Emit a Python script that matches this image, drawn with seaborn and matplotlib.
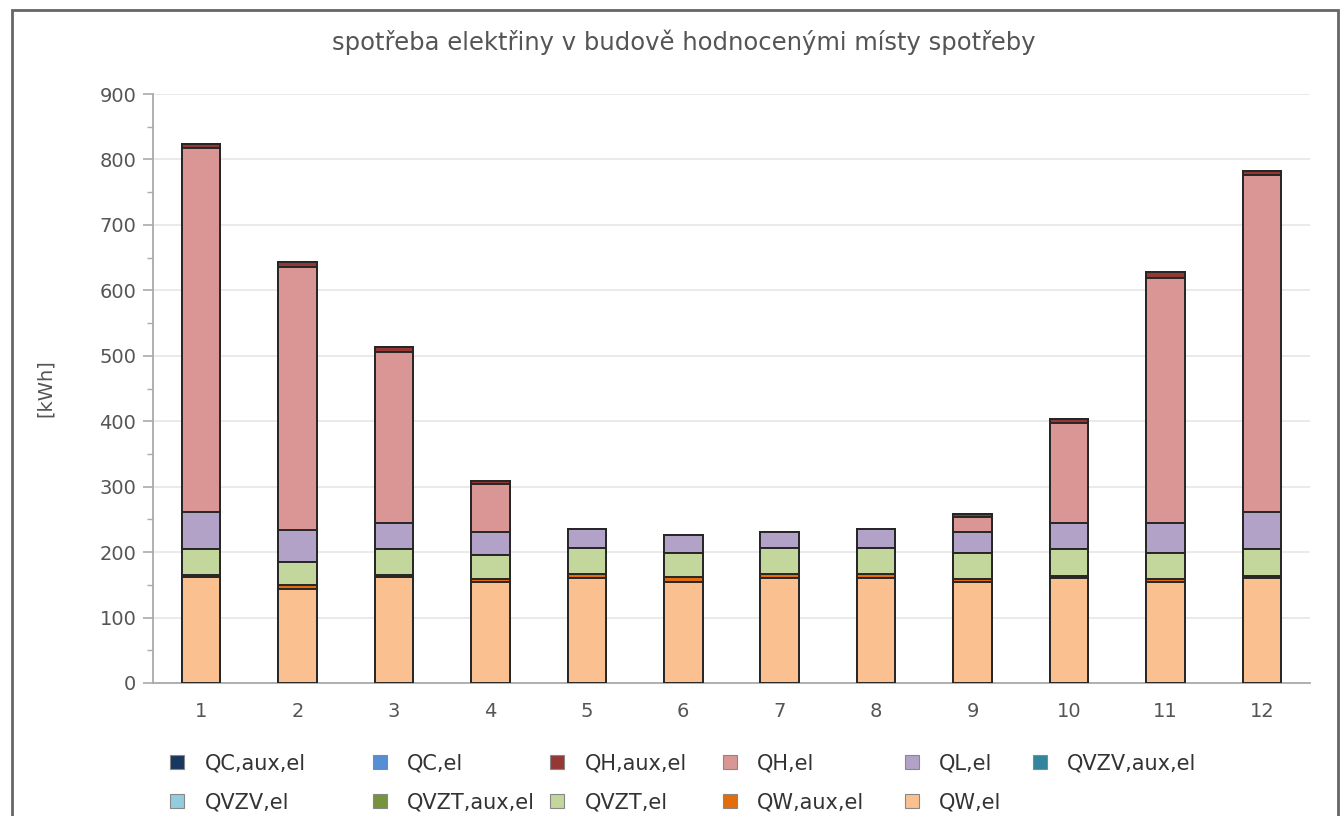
import numpy as np
import pandas as pd
import matplotlib
matplotlib.use("Agg")
import matplotlib.pyplot as plt
from matplotlib.patches import Patch, Rectangle
import seaborn as sns

months = ["1", "2", "3", "4", "5", "6", "7", "8", "9", "10", "11", "12"]

# series (bottom -> top stacking order)
series_names = ["QW,el", "QW,aux,el", "QVZT,el", "QVZT,aux,el", "QVZV,el", "QVZV,aux,el",
                "QL,el", "QH,el", "QH,aux,el", "QC,el", "QC,aux,el"]
QW_el       = [162, 143, 162, 155, 161, 155, 161, 161, 155, 161, 155, 161]
QW_aux_el   = [3, 6, 3, 4, 6, 7, 6, 6, 4, 3, 4, 3]
QVZT_el     = [40, 36, 40, 37, 40, 37, 40, 40, 40, 41, 40, 41]
QVZT_aux_el = [0] * 12
QVZV_el     = [0] * 12
QVZV_aux_el = [0] * 12
QL_el       = [57, 49, 40, 34, 28, 27, 24, 28, 32, 40, 46, 57]
QH_el       = [555, 402, 261, 74, 0, 0, 0, 0, 23, 152, 374, 514]
QH_aux_el   = [6, 7, 7, 5, 0, 0, 0, 0, 4, 7, 9, 7]
QC_el       = [0] * 12
QC_aux_el   = [0] * 12

series_values = [QW_el, QW_aux_el, QVZT_el, QVZT_aux_el, QVZV_el, QVZV_aux_el,
                 QL_el, QH_el, QH_aux_el, QC_el, QC_aux_el]
series_colors = ["#fac090", "#e46c0a", "#c3d69b", "#77933c", "#93cddd", "#31859c",
                 "#b3a2c7", "#d99694", "#953735", "#558ed5", "#17375e"]

# legend layout: columns of (row1, row2)
legend_columns = [["QC,aux,el", "QVZV,el"], ["QC,el", "QVZT,aux,el"],
                  ["QH,aux,el", "QVZT,el"], ["QH,el", "QW,aux,el"],
                  ["QL,el", "QW,el"], ["QVZV,aux,el"]]

title = "spotřeba elektřiny v budově hodnocenými místy spotřeby"
ylabel = "[kWh]"

sns.set_theme(style="white")
plt.rcParams["font.family"] = ["DejaVu Sans"]

W, H = 1344, 816
fig = plt.figure(figsize=(W / 100, H / 100), dpi=100)
ax = fig.add_axes([153 / W, 1 - 683 / H, (1310 - 153) / W, (683 - 94) / H])

cum = np.zeros(len(months))
cums = []
for vals in series_values:
    cum = cum + np.array(vals, dtype=float)
    cums.append(cum.copy())

# draw from top layer down so each lower cumulative bar overlays the previous
for name, color, c in reversed(list(zip(series_names, series_colors, cums))):
    d = pd.DataFrame({"month": months, "value": c})
    sns.barplot(data=d, x="month", y="value", order=months, color=color,
                width=0.4, edgecolor="#262626", linewidth=1.4, saturation=1,
                errorbar=None, ax=ax, zorder=3)

ax.set_ylim(0, 900)
ax.set_yticks(np.arange(0, 901, 100))
ax.set_yticks(np.arange(50, 900, 100), minor=True)
ax.yaxis.grid(True, which="major", color="#e6e6e6", linewidth=1.2, zorder=0)
ax.set_axisbelow(True)
for s in ["top", "right"]:
    ax.spines[s].set_visible(False)
for s in ["left", "bottom"]:
    ax.spines[s].set_color("#aaaaaa")
    ax.spines[s].set_linewidth(1.3)
ax.tick_params(axis="y", which="major", left=True, length=7, width=1.2, color="#aaaaaa",
               labelsize=14, labelcolor="#555555", pad=5)
ax.tick_params(axis="y", which="minor", left=True, length=4, width=1.0, color="#aaaaaa")
ax.tick_params(axis="x", bottom=False, labelsize=14, labelcolor="#555555", pad=8)
ax.set_xlabel("")
ax.set_ylabel(ylabel, fontsize=14, color="#555555", labelpad=32)

fig.text(684 / W, 1 - 42 / H, title, fontsize=17.5, color="#555555",
         ha="center", va="center")

# legend: one legend per column at the reference's column positions
color_map = dict(zip(series_names, series_colors))
col_x = [170, 373, 550, 723, 905, 1033]
for x, names in zip(col_x, legend_columns):
    handles = [Patch(facecolor=color_map[n], edgecolor="#888888", linewidth=0.8, label=n)
               for n in names]
    fig.legend(handles=handles, loc="upper left",
               bbox_to_anchor=(x / W, 1 - 753 / H), frameon=False, borderpad=0,
               borderaxespad=0, fontsize=15, labelcolor="#333333",
               handlelength=0.65, handleheight=0.65, handletextpad=1.0,
               labelspacing=0.93)

# outer frame
fig.patches.append(Rectangle((12 / W, -0.05), (1338 - 12) / W, 1.05 - 10 / H,
                             transform=fig.transFigure, fill=False, edgecolor="#666666",
                             linewidth=2, zorder=10))

fig.savefig("out.png", dpi=100)
